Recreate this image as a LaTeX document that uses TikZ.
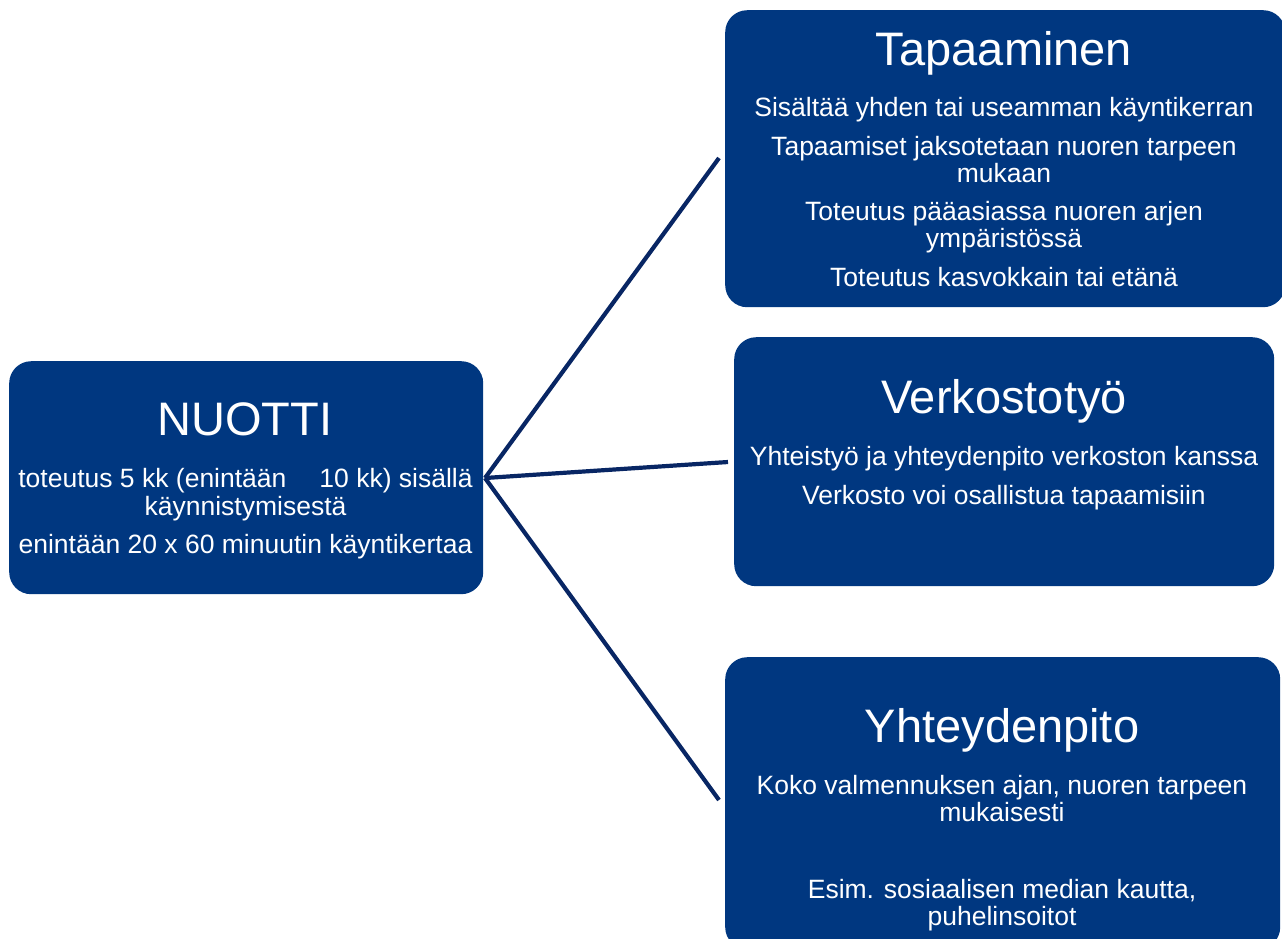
\documentclass[tikz,border=0pt]{standalone}
\usepackage{fontspec}
\setmainfont{Liberation Sans}
\definecolor{boxblue}{RGB}{0,55,128}
\definecolor{linkblue}{RGB}{8,38,100}
\tikzset{
  box/.style={fill=boxblue, draw=none, rounded corners=22pt, anchor=north west, inner sep=0pt},
  ttl/.style={text=white, anchor=base, inner sep=0pt, font=\fontsize{47}{50}\selectfont},
  txt/.style={text=white, anchor=base, inner sep=0pt, font=\fontsize{26.5}{28}\selectfont},
  link/.style={draw=linkblue, line width=4.2pt}
}
\begin{document}
\begin{tikzpicture}[x=1pt,y=-1pt]
\useasboundingbox (0,0) rectangle (1282,938);
\begin{scope}
\clip (0,0) rectangle (1282,938);
% boxes
\node[box, minimum width=474pt, minimum height=233pt] (nuotti) at (9,361) {};
\node[box, minimum width=560pt, minimum height=297pt] (tap) at (725,10) {};
\node[box, minimum width=540pt, minimum height=249pt] (verk) at (734,337) {};
\node[box, minimum width=555pt, minimum height=292pt] (yht) at (725,657) {};
\end{scope}
% connectors
\coordinate (hub) at (485,478);
\coordinate (tapend) at (719,158);
\coordinate (verkend) at (728,462);
\coordinate (yhtend) at (719,800);
\draw[link] (hub) -- (tapend);
\draw[link] (hub) -- (verkend);
\draw[link] (hub) -- (yhtend);
% NUOTTI texts
\node[ttl] (n0) at (245,435) {NUOTTI};
\node[txt] (n1) at (245.5,487) {toteutus 5 kk (enintään\hspace{33pt}10 kk) sisällä};
\node[txt] (n2) at (245.5,515) {käynnistymisestä};
\node[txt] (n3) at (245.5,553) {enintään 20 x 60 minuutin käyntikertaa};
% Tapaaminen texts
\node[ttl] (a0) at (1004,65) {Tapaaminen};
\node[txt] (a1) at (1004,116) {Sisältää yhden tai useamman käyntikerran};
\node[txt] (a2) at (1004,155) {Tapaamiset jaksotetaan nuoren tarpeen};
\node[txt] (a3) at (1004,182) {mukaan};
\node[txt] (a4) at (1004,220) {Toteutus pääasiassa nuoren arjen};
\node[txt] (a5) at (1004,247) {ympäristössä};
\node[txt] (a6) at (1004,286) {Toteutus kasvokkain tai etänä};
% Verkostotyö texts
\node[ttl] (v0) at (1004,413) {Verkostotyö};
\node[txt] (v1) at (1004,465) {Yhteistyö ja yhteydenpito verkoston kanssa};
\node[txt] (v2) at (1004,504) {Verkosto voi osallistua tapaamisiin};
% Yhteydenpito texts
\node[ttl] (y0) at (1002,742) {Yhteydenpito};
\node[txt] (y1) at (1002,794) {Koko valmennuksen ajan, nuoren tarpeen};
\node[txt] (y2) at (1002,821) {mukaisesti};
\node[txt] (y3) at (1002,898) {Esim. sosiaalisen median kautta,};
\node[txt] (y4) at (1002,925) {puhelinsoitot};
\end{tikzpicture}
\end{document}
